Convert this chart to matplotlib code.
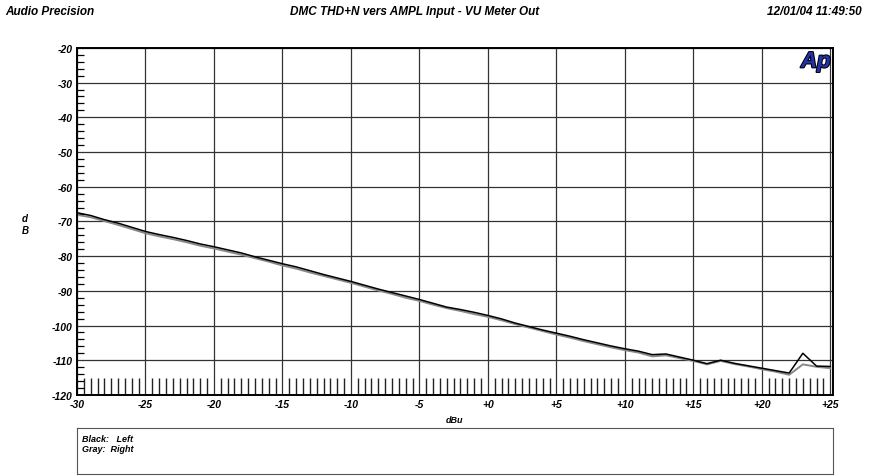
import matplotlib.pyplot as plt
from matplotlib.ticker import MultipleLocator
import matplotlib.patheffects as pe

plt.rcParams['font.family'] = ['Liberation Sans', 'DejaVu Sans']
plt.rcParams['axes.unicode_minus'] = False

# Amplitude d'entrée (dBu) et THD+N mesuré (dB)
level_dbu = list(range(-30, 26))
left_db = [-67.5, -68.3, -69.5, -70.5, -71.7, -72.9, -73.8, -74.6, -75.5, -76.5,
           -77.3, -78.2, -79.1, -80.2, -81.2, -82.2, -83.1, -84.2, -85.3, -86.3,
           -87.3, -88.4, -89.5, -90.5, -91.5, -92.5, -93.6, -94.7, -95.4, -96.2,
           -97.1, -98.1, -99.3, -100.3, -101.3, -102.2, -103.1, -104.1, -105.0, -105.9,
           -106.7, -107.4, -108.4, -108.2, -109.1, -110.0, -111.0, -110.0, -110.9, -111.6,
           -112.3, -113.0, -113.7, -108.0, -111.7, -111.8]
right_db = [-68.1, -68.8, -69.9, -71.0, -72.2, -73.4, -74.3, -75.1, -76.0, -77.0,
            -77.8, -78.7, -79.6, -80.6, -81.6, -82.7, -83.6, -84.7, -85.7, -86.7,
            -87.7, -88.8, -89.9, -90.9, -92.0, -92.9, -94.0, -95.0, -95.8, -96.7,
            -97.5, -98.5, -99.6, -100.6, -101.6, -102.6, -103.5, -104.5, -105.4, -106.3,
            -107.1, -107.8, -108.9, -108.6, -109.4, -110.2, -111.2, -110.2, -111.1, -111.8,
            -112.6, -113.3, -114.2, -111.2, -111.9, -112.3]

xticks = list(range(-30, 30, 5))
xtick_labels = [str(v) if v < 0 else '+' + str(v) for v in xticks]
yticks = list(range(-120, -10, 10))

fig = plt.figure(figsize=(8.75, 4.77), dpi=100)
ax = fig.add_axes([0.088, 0.17, 0.864, 0.7275])

ax.plot(level_dbu, right_db, color='#888888', lw=1.4)
ax.plot(level_dbu, left_db, color='black', lw=1.1)

ax.set_xlim(-30, 25.2)
ax.set_ylim(-120, -20)
ax.set_xticks(xticks)
ax.set_xticklabels(xtick_labels)
ax.set_yticks(yticks)
ax.xaxis.set_minor_locator(MultipleLocator(0.5))
ax.yaxis.set_minor_locator(MultipleLocator(2))
ax.grid(True, which='major', color='#333333', lw=0.9)
ax.tick_params(which='major', length=0, pad=3, labelsize=7.5)
ax.tick_params(axis='x', which='minor', direction='in', length=12, width=1.0, color='#222222')
ax.tick_params(axis='y', which='minor', direction='in', length=5, width=0.9)
for lab in ax.get_xticklabels() + ax.get_yticklabels():
    lab.set_fontweight('bold')
    lab.set_fontstyle('italic')
for sp in ax.spines.values():
    sp.set_linewidth(1.4)

ax.text(0.5, -0.058, 'dBu', transform=ax.transAxes, ha='center', va='top',
        fontsize=6.5, fontweight='bold', fontstyle='italic')
fig.text(25 / 875, 1 - 225 / 477, 'd\nB', ha='center', va='center', fontsize=7,
         fontweight='bold', fontstyle='italic', linespacing=1.2)

ax.text(0.997, 0.99, 'Ap', transform=ax.transAxes, ha='right', va='top', fontsize=16,
        fontweight='bold', fontstyle='italic', color='#2233aa',
        path_effects=[pe.withStroke(linewidth=1.5, foreground='black')])

# En-tête
fig.text(5 / 875, 1 - 12 / 477, 'Audio Precision', ha='left', va='center', fontsize=8.5,
         fontweight='bold', fontstyle='italic')
fig.text(415 / 875, 1 - 12 / 477, 'DMC THD+N vers AMPL Input - VU Meter Out', ha='center',
         va='center', fontsize=8.5, fontweight='bold', fontstyle='italic')
fig.text(862 / 875, 1 - 12 / 477, '12/01/04 11:49:50', ha='right', va='center', fontsize=8.5,
         fontweight='bold', fontstyle='italic')

# Boîte de légende
lg = fig.add_axes([0.088, 2 / 477, 0.864, 46 / 477])
lg.set_xticks([])
lg.set_yticks([])
for sp in lg.spines.values():
    sp.set_linewidth(0.8)
    sp.set_color('#555555')
lg.text(0.007, 0.88, 'Black:   Left\nGray:  Right', transform=lg.transAxes, ha='left', va='top',
        fontsize=6.5, fontweight='bold', fontstyle='italic', linespacing=1.25)

fig.savefig('out.png', dpi=100)
